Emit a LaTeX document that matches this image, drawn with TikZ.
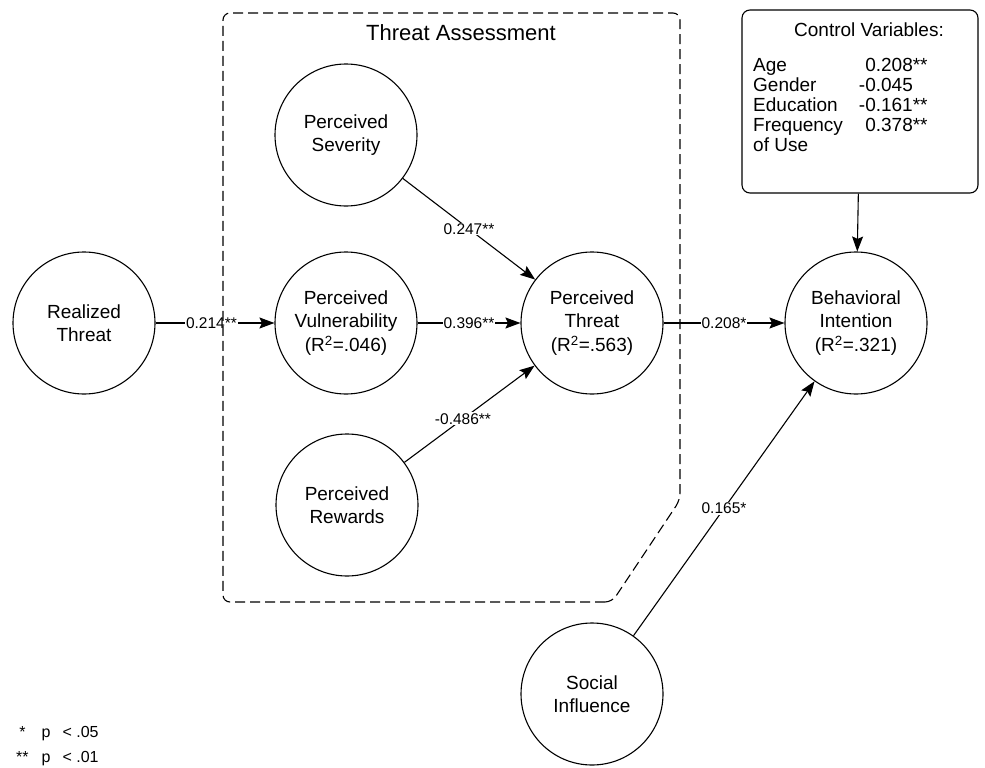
\documentclass[tikz,border=0pt]{standalone}
\usepackage{fontspec}
\setmainfont{Liberation Sans}
\usetikzlibrary{arrows.meta}

\begin{document}
\begin{tikzpicture}[x=1pt, y=-1pt, >={Stealth[length=15pt, width=11pt, inset=2.5pt]},
		construct/.style={circle, draw, line width=1.1pt, minimum size=142pt, inner sep=0pt, align=center, font=\fontsize{19}{23.5}\selectfont},
		coef/.style={fill=white, inner sep=1pt, font=\fontsize{15.5}{17}\selectfont},
		effect/.style={->, line width=1.1pt}]
		
		\useasboundingbox (0,0) rectangle (985,768);
		
		% Constructs
		\node [construct] (realized) at (84,323) {Realized\\Threat};
		\node [construct] (severity) at (346,135) {Perceived\\Severity};
		\node [construct] (vulnerability) at (346,323) {Perceived\\Vulnerability\\(R\textsuperscript{2}=.046)};
		\node [construct] (rewards) at (347,505) {Perceived\\Rewards};
		\node [construct] (threat) at (592,323) {Perceived\\Threat\\(R\textsuperscript{2}=.563)};
		\node [construct] (intention) at (856,323) {Behavioral\\Intention\\(R\textsuperscript{2}=.321)};
		\node [construct] (social) at (592,694) {Social\\Influence};
		
		% Control variables
		\node [draw, line width=1.1pt, rounded corners=8pt, minimum width=236pt, minimum height=183pt] (controls) at (860,101.5) {};
		\node [font=\fontsize{19}{20}\selectfont] (controls-title) at (869,30) {Control Variables:};
		\node [anchor=north west, inner sep=0pt, font=\fontsize{19}{20}\selectfont] (controls-list) at (753,57) {%
			\begin{tabular}{@{}l@{\hspace{16pt}}l@{}}
				Age & \phantom{-}0.208** \\
				Gender & -0.045 \\
				Education & -0.161** \\
				Frequency & \phantom{-}0.378** \\
				of Use &
			\end{tabular}};
		
		% Paths
		\draw [effect] (realized) -- node [coef, pos=0.47] {0.214**} (vulnerability);
		\draw [effect] (severity) -- node [coef] {0.247**} (threat);
		\draw [effect] (vulnerability) -- node [coef] {0.396**} (threat);
		\draw [effect] (rewards) -- node [coef, pos=0.45] {-0.486**} (threat);
		\draw [effect] (threat) -- node [coef] {0.208*} (intention);
		\draw [effect] (social) -- node [coef] {0.165*} (intention);
		\draw [effect] (controls) -- (intention);
		
		% Threat assessment group
		\draw [line width=1.1pt, dash pattern=on 10pt off 5pt, rounded corners=7pt]
			(612,602) -- (223,602) -- (223,13) -- (680,13) -- (680,500) -- cycle;
		\node [font=\fontsize{22}{26}\selectfont] (assessment) at (461,33) {Threat Assessment};
		
		% Legend
		\node [anchor=west, inner sep=0pt, font=\fontsize{16}{25}\selectfont] (legend) at (16,745) {%
			\begin{tabular}{@{}c@{\hspace{13pt}}l@{}}
				{*} & p\hspace{12pt}< .05 \\
				{**} & p\hspace{12pt}< .01
			\end{tabular}};
		
	\end{tikzpicture}
\end{document}
